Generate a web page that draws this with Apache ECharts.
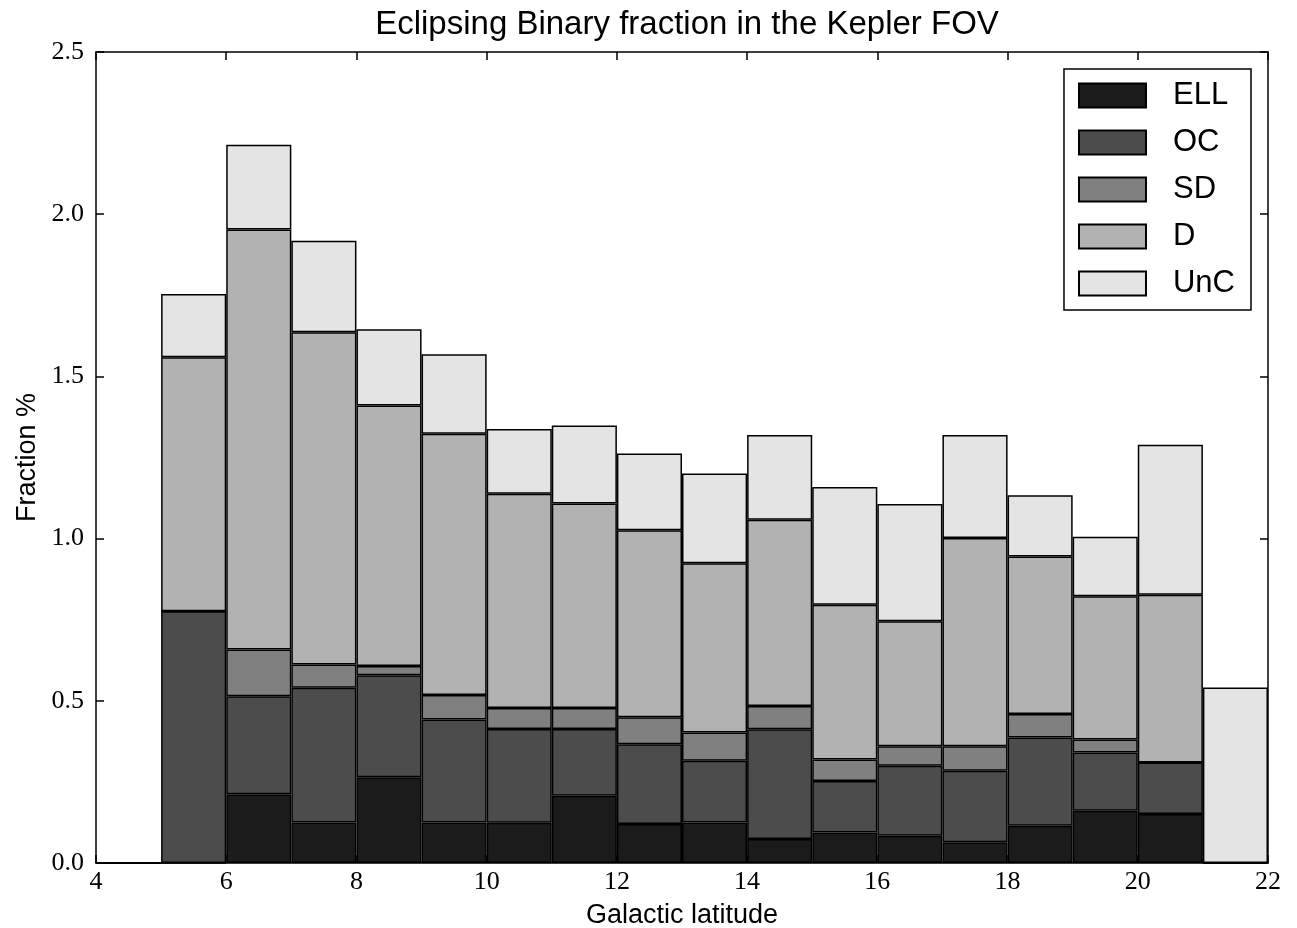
<!DOCTYPE html>
<html>
<head>
<meta charset="UTF-8">
<title>Eclipsing Binary fraction in the Kepler FOV</title>
<script src="https://cdn.jsdelivr.net/npm/echarts@6/dist/echarts.min.js"></script>
<style>html,body{margin:0;padding:0;background:#fff}</style>
</head>
<body>
<div id="chart" style="width:1297px;height:928px;"></div>
<script>
// galactic latitude bins, 1 degree wide, from 4 to 22
const binStarts = [4, 5, 6, 7, 8, 9, 10, 11, 12, 13, 14, 15, 16, 17, 18, 19, 20, 21];
const xTicks = [4, 22, 2]; // min, max, step
const yTicks = [0, 2.5, 0.5];

// per-class fraction (%) in each bin, stacked in this order
const ell = [0, 0, 0.212, 0.125, 0.264, 0.125, 0.124, 0.207, 0.120, 0.125, 0.074, 0.094, 0.084, 0.064, 0.115, 0.161, 0.151, 0];
const oc  = [0, 0.776, 0.302, 0.415, 0.315, 0.317, 0.289, 0.206, 0.246, 0.190, 0.338, 0.159, 0.216, 0.220, 0.272, 0.180, 0.159, 0];
const sd  = [0, 0, 0.144, 0.072, 0.028, 0.076, 0.065, 0.065, 0.083, 0.087, 0.072, 0.066, 0.060, 0.076, 0.072, 0.040, 0, 0];
const d   = [0, 0.783, 1.295, 1.024, 0.803, 0.805, 0.660, 0.630, 0.577, 0.522, 0.574, 0.477, 0.385, 0.642, 0.486, 0.441, 0.517, 0];
const unc = [0, 0.195, 0.261, 0.282, 0.235, 0.245, 0.200, 0.241, 0.236, 0.277, 0.261, 0.363, 0.362, 0.317, 0.189, 0.184, 0.462, 0.541];

const classNames = ['ELL', 'OC', 'SD', 'D', 'UnC'];
const classColors = ['#1b1b1b', '#4c4c4c', '#808080', '#b2b2b2', '#e4e4e4'];
const classData = [ell, oc, sd, d, unc];

const sans = 'Liberation Sans, Arial, sans-serif';
const serif = 'Liberation Serif, Times New Roman, serif';

const frameLine = { show: true, onZero: false, lineStyle: { color: '#000', width: 1.5 } };
const innerTick = { show: true, inside: true, length: 8, lineStyle: { color: '#000', width: 1.5 } };

const chart = echarts.init(document.getElementById('chart'));
chart.setOption({
    animation: false,
    backgroundColor: '#fff',
    title: {
        text: 'Eclipsing Binary fraction in the Kepler FOV',
        left: 682,
        textAlign: 'center',
        top: 3,
        textStyle: { fontFamily: sans, fontSize: 33, fontWeight: 'normal', color: '#000' }
    },
    grid: { left: 96, right: 29, top: 52, bottom: 65, containLabel: false, outerBoundsMode: 'none' },
    legend: {
        orient: 'vertical',
        right: 46,
        top: 69,
        icon: 'rect',
        itemWidth: 67,
        itemHeight: 24,
        itemGap: 16,
        padding: [11, 16, 11, 14],
        borderColor: '#000',
        borderWidth: 1.5,
        borderRadius: 0,
        backgroundColor: '#fff',
        data: classNames,
        textStyle: { fontFamily: sans, fontSize: 31, color: '#000', padding: [0, 0, 0, 22] }
    },
    xAxis: [
        { type: 'category', data: binStarts, show: false, boundaryGap: true },
        {
            type: 'value', min: xTicks[0], max: xTicks[1], interval: xTicks[2], position: 'bottom',
            name: 'Galactic latitude', nameLocation: 'middle', nameGap: 39,
            nameTextStyle: { fontFamily: sans, fontSize: 27, color: '#000' },
            axisLine: frameLine, axisTick: innerTick, splitLine: { show: false },
            axisLabel: { fontFamily: serif, fontSize: 26, color: '#000', margin: 6 }
        },
        {
            type: 'value', min: xTicks[0], max: xTicks[1], interval: xTicks[2], position: 'top',
            axisLine: frameLine, axisTick: innerTick, splitLine: { show: false },
            axisLabel: { show: false }
        }
    ],
    yAxis: [
        {
            type: 'value', min: yTicks[0], max: yTicks[1], interval: yTicks[2], position: 'left',
            name: 'Fraction %', nameLocation: 'middle', nameGap: 51,
            nameTextStyle: { fontFamily: sans, fontSize: 27, color: '#000' },
            axisLine: frameLine, axisTick: innerTick, splitLine: { show: false },
            axisLabel: { fontFamily: serif, fontSize: 26, color: '#000', margin: 12,
                formatter: v => v.toFixed(1) }
        },
        {
            type: 'value', min: yTicks[0], max: yTicks[1], interval: yTicks[2], position: 'right',
            axisLine: frameLine, axisTick: innerTick, splitLine: { show: false },
            axisLabel: { show: false }
        }
    ],
    series: classNames.map((name, i) => ({
        name: name,
        type: 'bar',
        stack: 'eb',
        xAxisIndex: 0,
        yAxisIndex: 0,
        barCategoryGap: '0%',
        itemStyle: { color: classColors[i], borderColor: '#000', borderWidth: 1.5 },
        emphasis: { disabled: true },
        data: classData[i]
    }))
});
</script>
</body>
</html>
